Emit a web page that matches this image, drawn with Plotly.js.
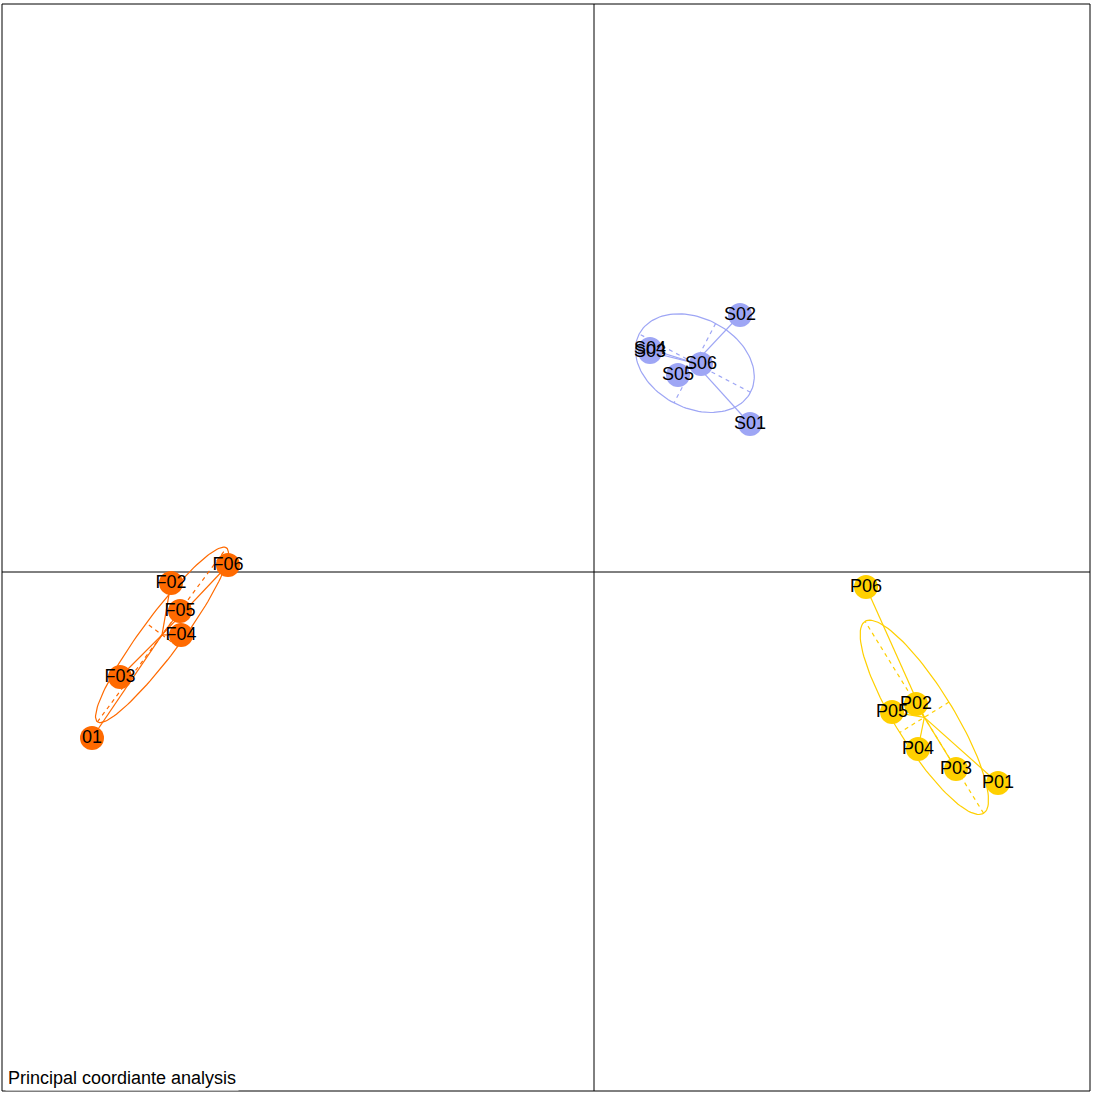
<!DOCTYPE html>
<html>
<head>
<meta charset="utf-8">
<script src="https://cdn.plot.ly/plotly-3.0.1.min.js"></script>
<style>html,body{margin:0;padding:0;background:#fff;}#plot{width:1094px;height:1096px;}</style>
</head>
<body>
<div id="plot"></div>
<script>
// Group F
const labelsF = ["01", "F02", "F03", "F04", "F05", "F06"];
const xF = [-5.02, -4.23, -4.74, -4.13, -4.14, -3.66];
const yF = [-1.66, -0.11, -1.05, -0.63, -0.39, 0.07];
// Group P
const labelsP = ["P01", "P02", "P03", "P04", "P05", "P06"];
const xP = [4.04, 3.22, 3.62, 3.24, 2.98, 2.72];
const yP = [-2.11, -1.32, -1.97, -1.77, -1.40, -0.15];
// Group S
const labelsS = ["S01", "S02", "S03", "S04", "S05", "S06"];
const xS = [1.56, 1.46, 0.56, 0.56, 0.84, 1.07];
const yS = [1.48, 2.57, 2.20, 2.23, 1.97, 2.08];

const colors = { F: "#FF6A00", P: "#FFD000", S: "#9EA6F5" };
const titleText = "Principal coordiante analysis";
const cellipse = 1.5;

const groups = [
  { key: "F", lab: labelsF, x: xF, y: yF },
  { key: "P", lab: labelsP, x: xP, y: yP },
  { key: "S", lab: labelsS, x: xS, y: yS }
];

const lineTraces = [], pointTraces = [], textTraces = [];
groups.forEach(g => {
  const n = g.x.length;
  const mx = g.x.reduce((a, b) => a + b, 0) / n;
  const my = g.y.reduce((a, b) => a + b, 0) / n;
  let vx = 0, vy = 0, cxy = 0;
  for (let i = 0; i < n; i++) {
    vx += (g.x[i] - mx) ** 2; vy += (g.y[i] - my) ** 2; cxy += (g.x[i] - mx) * (g.y[i] - my);
  }
  vx /= n; vy /= n; cxy /= n;
  const tr = vx + vy, det = vx * vy - cxy * cxy;
  const disc = Math.sqrt(Math.max(tr * tr / 4 - det, 0));
  const l1 = tr / 2 + disc, l2 = Math.max(tr / 2 - disc, 0);
  let ux, uy;
  if (Math.abs(cxy) > 1e-12) { ux = cxy; uy = l1 - vx; } else { ux = vx >= vy ? 1 : 0; uy = vx >= vy ? 0 : 1; }
  const nu = Math.hypot(ux, uy); ux /= nu; uy /= nu;
  const vxv = -uy, vyv = ux;
  const a = cellipse * Math.sqrt(l1), b = cellipse * Math.sqrt(l2);
  const col = colors[g.key];
  // ellipse
  const ex = [], ey = [];
  for (let k = 0; k <= 120; k++) {
    const t = 2 * Math.PI * k / 120;
    ex.push(mx + a * Math.cos(t) * ux + b * Math.sin(t) * vxv);
    ey.push(my + a * Math.cos(t) * uy + b * Math.sin(t) * vyv);
  }
  lineTraces.push({ x: ex, y: ey, mode: "lines", line: { color: col, width: 1.2 }, hoverinfo: "skip" });
  // ellipse axes (dashed)
  lineTraces.push({
    x: [mx - a * ux, mx + a * ux, null, mx - b * vxv, mx + b * vxv],
    y: [my - a * uy, my + a * uy, null, my - b * vyv, my + b * vyv],
    mode: "lines", line: { color: col, width: 1.2, dash: "4px,4px" }, hoverinfo: "skip"
  });
  // stars
  const sx = [], sy = [];
  for (let i = 0; i < n; i++) { sx.push(mx, g.x[i], null); sy.push(my, g.y[i], null); }
  lineTraces.push({ x: sx, y: sy, mode: "lines", line: { color: col, width: 1.2 }, hoverinfo: "skip" });
  pointTraces.push({ x: g.x, y: g.y, mode: "markers", marker: { color: col, size: 24, line: { width: 0 } }, hoverinfo: "skip" });
  textTraces.push({ x: g.x, y: g.y, text: g.lab, mode: "text", textposition: "middle center",
    textfont: { family: "Liberation Sans, Arial, sans-serif", size: 18, color: "#000" }, hoverinfo: "skip" });
});

const layout = {
  width: 1094, height: 1096,
  margin: { l: 2, r: 4, t: 4, b: 5, pad: 0 },
  paper_bgcolor: "#fff", plot_bgcolor: "#fff",
  showlegend: false,
  xaxis: { range: [-5.92, 4.96], showgrid: false, zeroline: false, showticklabels: false, ticks: "", showline: false, fixedrange: true },
  yaxis: { range: [-5.19, 5.68], showgrid: false, zeroline: false, showticklabels: false, ticks: "", showline: false, fixedrange: true },
  shapes: [
    { type: "line", xref: "x", yref: "paper", x0: 0, x1: 0, y0: 0, y1: 1, line: { color: "#000", width: 1 }, layer: "below" },
    { type: "line", xref: "paper", yref: "y", x0: 0, x1: 1, y0: 0, y1: 0, line: { color: "#000", width: 1 }, layer: "below" },
    { type: "rect", xref: "paper", yref: "paper", x0: 0, x1: 1, y0: 0, y1: 1, line: { color: "#000", width: 1 }, fillcolor: "rgba(0,0,0,0)" }
  ],
  annotations: [
    { xref: "paper", yref: "paper", x: 0, y: 0, xanchor: "left", yanchor: "bottom", xshift: 3, yshift: 0,
      text: titleText, showarrow: false, bgcolor: "#fff", borderpad: 2,
      font: { family: "Liberation Sans, Arial, sans-serif", size: 18, color: "#000" } }
  ]
};

Plotly.newPlot("plot", [...lineTraces, ...pointTraces, ...textTraces], layout, { displayModeBar: false, staticPlot: true });
</script>
</body>
</html>
